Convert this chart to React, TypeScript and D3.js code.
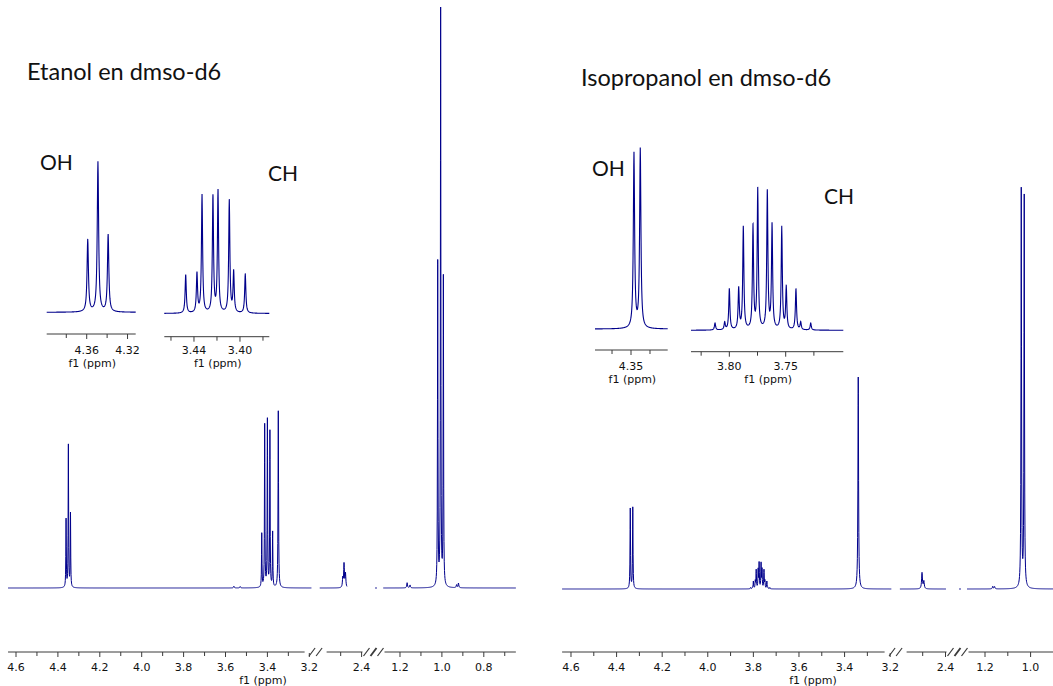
import React from 'react';
import * as d3 from 'd3';

const WIDTH = 1053;
const HEIGHT = 686;
const SPEC_COLOR = '#00008B';
const AXIS_COLOR = '#3a3a3a';
const TEXT_COLOR = '#111111';

// ---------------- Etanol en dmso-d6 (left) ----------------
const etanolOH_ppm = [4.361, 4.35, 4.34];
const etanolOH_int = [11.8, 24.7, 12.8];
const etanolCH2_ppm = [3.427, 3.413, 3.4, 3.388, 3.375];
const etanolCH2_int = [9.3, 28.2, 29.0, 27.0, 9.5];
const etanolH2O_ppm = [3.348];
const etanolH2O_int = [30.7];
const etanolDMSO_ppm = [2.49, 2.484, 2.477];
const etanolDMSO_int = [1.6, 4.1, 2.4];
const etanolCH3_ppm = [1.02, 1.006, 0.993];
const etanolCH3_int = [56.2, 100, 53.5];
const etanolMinor_ppm = [3.56, 3.53, 1.166, 1.152, 0.93, 0.921];
const etanolMinor_int = [0.3, 0.25, 0.9, 0.5, 0.5, 0.8];

const etanolOHInset_ppm = [4.359, 4.349, 4.339];
const etanolOHInset_int = [48.2, 100, 51.5];
const etanolCH2Inset_ppm = [3.4472, 3.4374, 3.433, 3.4235, 3.4191, 3.4093, 3.4055, 3.3954];
const etanolCH2Inset_int = [31.7, 32.3, 97.0, 95.6, 100, 92.6, 33.6, 32.5];

const etanolMajorTicks = [4.6, 4.4, 4.2, 4.0, 3.8, 3.6, 3.4, 3.2, 2.4, 1.2, 1.0, 0.8];
const etanolMinorTicks = [4.5, 4.3, 4.1, 3.9, 3.7, 3.5, 3.3, 2.5, 1.1, 0.9, 0.7];
const etanolOHInsetMajor = [4.36, 4.32];
const etanolOHInsetMinor = [4.38, 4.34];
const etanolCH2InsetMajor = [3.44, 3.4];
const etanolCH2InsetMinor = [3.46, 3.42, 3.38];

// ---------------- Isopropanol en dmso-d6 (right) ----------------
const isoOH_ppm = [4.34, 4.329];
const isoOH_int = [13.9, 14.1];
const isoCH_ppm = [3.8127, 3.8041, 3.8, 3.7917, 3.7876, 3.779, 3.7748, 3.7663, 3.7621, 3.7535, 3.7495, 3.7409, 3.7367, 3.7278];
const isoCH_int = [0.22, 0.24, 1.28, 1.28, 3.2, 3.2, 4.37, 4.3, 3.25, 3.19, 1.31, 1.28, 0.24, 0.22];
const isoCHInset_int = [5.0, 5.4, 29.3, 29.3, 73.3, 73.3, 100, 98.3, 74.3, 72.9, 30.0, 29.3, 5.4, 5.0];
const isoH2O_ppm = [3.34];
const isoH2O_int = [36.8];
const isoDMSO_ppm = [2.503, 2.495];
const isoDMSO_int = [2.8, 1.3];
const isoCH3_ppm = [1.041, 1.028];
const isoCH3_int = [69.1, 67.9];
const isoMinor_ppm = [1.166, 1.158];
const isoMinor_int = [0.45, 0.4];

const isoOHInset_ppm = [4.3461, 4.3378];
const isoOHInset_int = [97.6, 100];

const isoMajorTicks = [4.6, 4.4, 4.2, 4.0, 3.8, 3.6, 3.4, 3.2, 2.4, 1.2, 1.0];
const isoMinorTicks = [4.5, 4.3, 4.1, 3.9, 3.7, 3.5, 3.3, 2.5, 1.1];
const isoOHInsetMajor = [4.35];
const isoOHInsetMinor = [4.375, 4.325];
const isoCHInsetMajor = [3.8, 3.75];
const isoCHInsetMinor = [3.825, 3.775, 3.725];

type Group = { ppm: number[]; int: number[]; hw: number };
type Seg = { dom: [number, number]; rng: [number, number]; draw?: [number, number] };

function specValue(groups: Group[], p: number): number {
  let v = 0;
  for (const g of groups) {
    for (let i = 0; i < g.ppm.length; i++) {
      const d = (p - g.ppm[i]) / g.hw;
      v += g.int[i] / (1 + d * d);
    }
  }
  return v;
}

function spectrumPath(
  scale: d3.ScaleLinear<number, number>,
  drawDom: [number, number],
  groups: Group[],
  y: d3.ScaleLinear<number, number>
): string {
  const [p0, p1] = drawDom;
  const x0 = scale(p0);
  const x1 = scale(p1);
  const xs: number[] = [];
  for (let x = x0; x < x1; x += 0.25) xs.push(x);
  xs.push(x1);
  groups.forEach((g) =>
    g.ppm.forEach((p) => {
      if (p <= p0 && p >= p1) xs.push(scale(p));
    })
  );
  xs.sort((a, b) => a - b);
  const pts = xs.map((x) => [x, y(specValue(groups, scale.invert(x)))] as [number, number]);
  return d3.line()(pts) || '';
}

function makePiecewise(segs: Seg[]) {
  const scales = segs.map((s) => d3.scaleLinear().domain(s.dom).range(s.rng));
  const f = (p: number) => {
    for (let i = 0; i < segs.length; i++) {
      const [a, b] = segs[i].dom;
      if (p <= a + 1e-9 && p >= b - 1e-9) return scales[i](p);
    }
    return NaN;
  };
  return { f, scales };
}

type PanelProps = {
  segs: Seg[];
  groups: Group[];
  y: d3.ScaleLinear<number, number>;
  axisY: number;
  major: number[];
  minor: number[];
  breaks: { cx: number; n: number }[];
  f1X: number;
};

const AXIS_FONT = 'DejaVu Sans, Verdana, sans-serif';
const AXIS_FS = 11;

function MainPanel({ segs, groups, y, axisY, major, minor, breaks, f1X }: PanelProps) {
  const { f, scales } = makePiecewise(segs);
  const fmt = d3.format('.1f');
  const xStart = segs[0].rng[0];
  const xEnd = segs[segs.length - 1].rng[1];
  return (
    <g>
      {segs.map((s, i) => (
        <path
          key={'sp' + i}
          d={spectrumPath(scales[i], s.draw || s.dom, groups, y)}
          fill="none"
          stroke={SPEC_COLOR}
          strokeWidth={1}
        />
      ))}
      <line x1={xStart} x2={xEnd} y1={axisY} y2={axisY} stroke={AXIS_COLOR} strokeWidth={1} />
      {minor.map((t) => (
        <line key={'mi' + t} x1={f(t)} x2={f(t)} y1={axisY} y2={axisY + 4} stroke={AXIS_COLOR} strokeWidth={1} />
      ))}
      {major.map((t) => (
        <line key={'ma' + t} x1={f(t)} x2={f(t)} y1={axisY} y2={axisY + 5} stroke={AXIS_COLOR} strokeWidth={1} />
      ))}
      {major.map((t) => (
        <text key={'lb' + t} x={f(t)} y={axisY + 19} textAnchor="middle" fontFamily={AXIS_FONT} fontSize={AXIS_FS} fill={TEXT_COLOR}>
          {fmt(t)}
        </text>
      ))}
      <text x={f1X} y={axisY + 32} textAnchor="middle" fontFamily={AXIS_FONT} fontSize={AXIS_FS} fill={TEXT_COLOR}>
        f1 (ppm)
      </text>
      {breaks.map((b, i) => {
        const offs = b.n === 2 ? [-3.5, 3.5] : [-7, 0, 7];
        return (
          <g key={'br' + i}>
            <rect x={b.cx - 11} y={axisY - 1} width={22} height={2} fill="white" />
            {offs.map((o, j) => (
              <line
                key={j}
                x1={b.cx + o - 3}
                y1={axisY + 4}
                x2={b.cx + o + 3}
                y2={axisY - 4}
                stroke={AXIS_COLOR}
                strokeWidth={b.n === 3 && j === 1 ? 1.8 : 1.2}
              />
            ))}
          </g>
        );
      })}
    </g>
  );
}

type InsetProps = {
  dom: [number, number];
  rng: [number, number];
  groups: Group[];
  yRange: [number, number];
  axisY: number;
  labelY: number;
  f1Y: number;
  major: number[];
  minor: number[];
  fmt: string;
};

function Inset({ dom, rng, groups, yRange, axisY, labelY, f1Y, major, minor, fmt }: InsetProps) {
  const x = d3.scaleLinear().domain(dom).range(rng);
  const y = d3.scaleLinear().domain([0, 100]).range(yRange);
  const format = d3.format(fmt);
  return (
    <g>
      <path d={spectrumPath(x, dom, groups, y)} fill="none" stroke={SPEC_COLOR} strokeWidth={1.1} />
      <line x1={rng[0]} x2={rng[1]} y1={axisY} y2={axisY} stroke={AXIS_COLOR} strokeWidth={1} />
      {minor.map((t) => (
        <line key={'mi' + t} x1={x(t)} x2={x(t)} y1={axisY} y2={axisY + 4} stroke={AXIS_COLOR} strokeWidth={1} />
      ))}
      {major.map((t) => (
        <line key={'ma' + t} x1={x(t)} x2={x(t)} y1={axisY} y2={axisY + 5} stroke={AXIS_COLOR} strokeWidth={1} />
      ))}
      {major.map((t) => (
        <text key={'lb' + t} x={x(t)} y={labelY} textAnchor="middle" fontFamily={AXIS_FONT} fontSize={AXIS_FS} fill={TEXT_COLOR}>
          {format(t)}
        </text>
      ))}
      <text x={(rng[0] + rng[1]) / 2 + 1} y={f1Y} textAnchor="middle" fontFamily={AXIS_FONT} fontSize={AXIS_FS} fill={TEXT_COLOR}>
        f1 (ppm)
      </text>
    </g>
  );
}

export default function App() {
  const etanolGroups: Group[] = [
    { ppm: etanolOH_ppm, int: etanolOH_int, hw: 0.0012 },
    { ppm: etanolCH2_ppm, int: etanolCH2_int, hw: 0.0012 },
    { ppm: etanolH2O_ppm, int: etanolH2O_int, hw: 0.0014 },
    { ppm: etanolDMSO_ppm, int: etanolDMSO_int, hw: 0.002 },
    { ppm: etanolCH3_ppm, int: etanolCH3_int, hw: 0.0012 },
    { ppm: etanolMinor_ppm, int: etanolMinor_int, hw: 0.002 },
  ];
  const isoGroups: Group[] = [
    { ppm: isoOH_ppm, int: isoOH_int, hw: 0.0012 },
    { ppm: isoCH_ppm, int: isoCH_int, hw: 0.0012 },
    { ppm: isoH2O_ppm, int: isoH2O_int, hw: 0.0016 },
    { ppm: isoDMSO_ppm, int: isoDMSO_int, hw: 0.0022 },
    { ppm: isoCH3_ppm, int: isoCH3_int, hw: 0.0013 },
    { ppm: isoMinor_ppm, int: isoMinor_int, hw: 0.002 },
  ];

  const etanolSegs: Seg[] = [
    { dom: [4.638, 3.19], rng: [8.04, 311.4] },
    { dom: [2.6, 2.39], rng: [319.75, 363.7], draw: [2.6, 2.47] },
    { dom: [2.0, 1.99], rng: [375, 377] },
    { dom: [1.28, 0.647], rng: [383.24, 515.85] },
  ];
  const isoSegs: Seg[] = [
    { dom: [4.639, 3.195], rng: [562.1, 891.3] },
    { dom: [2.6, 2.398], rng: [899.9, 945.96] },
    { dom: [2.0, 1.99], rng: [959, 961] },
    { dom: [1.279, 0.9], rng: [967, 1053.4] },
  ];

  const yLeft = d3.scaleLinear().domain([0, 100]).range([588, 12]);
  const yRight = d3.scaleLinear().domain([0, 100]).range([589, 13]);

  const titleFont = 'Lato, Carlito, "Open Sans", sans-serif';

  return (
    <div style={{ position: 'absolute', left: 0, top: 0 }}>
      <svg width={WIDTH} height={HEIGHT} viewBox={`0 0 ${WIDTH} ${HEIGHT}`} style={{ display: 'block', background: 'white' }}>
        <rect x={0} y={0} width={WIDTH} height={HEIGHT} fill="white" />

        <MainPanel
          segs={etanolSegs}
          groups={etanolGroups}
          y={yLeft}
          axisY={652}
          major={etanolMajorTicks}
          minor={etanolMinorTicks}
          breaks={[
            { cx: 315.6, n: 2 },
            { cx: 373.5, n: 3 },
          ]}
          f1X={263}
        />
        <MainPanel
          segs={isoSegs}
          groups={isoGroups}
          y={yRight}
          axisY={652}
          major={isoMajorTicks}
          minor={isoMinorTicks}
          breaks={[
            { cx: 895.6, n: 2 },
            { cx: 957.5, n: 3 },
          ]}
          f1X={813}
        />

        <Inset
          dom={[4.3992, 4.312]}
          rng={[46.7, 135.7]}
          groups={[{ ppm: etanolOHInset_ppm, int: etanolOHInset_int, hw: 0.0008 }]}
          yRange={[312.3, 162.3]}
          axisY={334}
          labelY={354}
          f1Y={367}
          major={etanolOHInsetMajor}
          minor={etanolOHInsetMinor}
          fmt=".2f"
        />
        <Inset
          dom={[3.4658, 3.3745]}
          rng={[164.3, 269.3]}
          groups={[{ ppm: etanolCH2Inset_ppm, int: etanolCH2Inset_int, hw: 0.0006 }]}
          yRange={[313.5, 192]}
          axisY={336.7}
          labelY={354}
          f1Y={367}
          major={etanolCH2InsetMajor}
          minor={etanolCH2InsetMinor}
          fmt=".2f"
        />
        <Inset
          dom={[4.3974, 4.3017]}
          rng={[595, 667.7]}
          groups={[{ ppm: isoOHInset_ppm, int: isoOHInset_int, hw: 0.001 }]}
          yRange={[329, 150]}
          axisY={350}
          labelY={370}
          f1Y={383}
          major={isoOHInsetMajor}
          minor={isoOHInsetMinor}
          fmt=".2f"
        />
        <Inset
          dom={[3.834, 3.6989]}
          rng={[691, 843.3]}
          groups={[{ ppm: isoCH_ppm, int: isoCHInset_int, hw: 0.0006 }]}
          yRange={[330.3, 190.3]}
          axisY={351.7}
          labelY={370}
          f1Y={383}
          major={isoCHInsetMajor}
          minor={isoCHInsetMinor}
          fmt=".2f"
        />

        <text x={27} y={80} fontFamily={titleFont} fontSize={23.5} fill="#111">
          Etanol en dmso-d6
        </text>
        <text x={581} y={86} fontFamily={titleFont} fontSize={23.5} fill="#111">
          Isopropanol en dmso-d6
        </text>
        <text x={40} y={170} fontFamily={titleFont} fontSize={21} fill="#111">
          OH
        </text>
        <text x={268} y={181} fontFamily={titleFont} fontSize={21} fill="#111">
          CH
        </text>
        <text x={592} y={176} fontFamily={titleFont} fontSize={21} fill="#111">
          OH
        </text>
        <text x={824} y={204} fontFamily={titleFont} fontSize={21} fill="#111">
          CH
        </text>
      </svg>
    </div>
  );
}
